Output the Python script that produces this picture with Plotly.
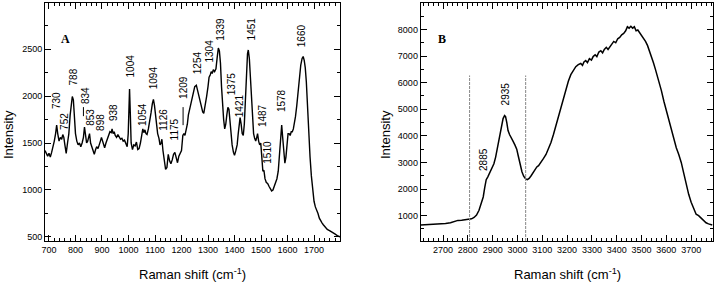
import plotly.graph_objects as go

# ---------------- Panel A data ----------------
a_shift = [685, 690, 695, 700, 705, 710, 715, 720, 725, 729, 733, 738, 743, 748, 752, 756, 760, 765, 770, 775,
           780, 784, 788, 792, 796, 800, 805, 810, 815, 820, 825, 830, 834, 838, 842, 846, 850, 853, 857, 862,
           867, 871, 876, 880, 885, 890, 894, 898, 902, 906, 910, 915, 920, 925, 930, 935, 938, 942, 946, 950,
           955, 960, 965, 970, 975, 980, 985, 990, 995, 999, 1002, 1004, 1007, 1010, 1015, 1020, 1025, 1030, 1035, 1040,
           1045, 1050, 1054, 1058, 1062, 1066, 1070, 1075, 1080, 1085, 1090, 1094, 1098, 1102, 1106, 1110, 1115, 1119, 1123, 1126,
           1130, 1135, 1140, 1145, 1150, 1155, 1160, 1165, 1170, 1175, 1180, 1185, 1190, 1195, 1200, 1205, 1209, 1213, 1218, 1222,
           1226, 1230, 1235, 1240, 1245, 1250, 1256, 1260, 1264, 1268, 1272, 1276, 1280, 1284, 1290, 1295, 1300, 1304, 1308, 1312,
           1316, 1320, 1325, 1330, 1335, 1339, 1343, 1347, 1351, 1355, 1359, 1363, 1367, 1371, 1375, 1379, 1383, 1387, 1391, 1396,
           1400, 1405, 1410, 1414, 1418, 1421, 1425, 1429, 1433, 1437, 1441, 1445, 1449, 1452, 1456, 1460, 1464, 1468, 1472, 1476,
           1480, 1484, 1487, 1491, 1495, 1499, 1503, 1507, 1511, 1515, 1520, 1525, 1530, 1535, 1540, 1545, 1550, 1555, 1560, 1565,
           1570, 1575, 1578, 1582, 1586, 1590, 1594, 1598, 1602, 1606, 1610, 1614, 1618, 1622, 1626, 1630, 1635, 1640, 1645, 1650,
           1655, 1659, 1663, 1667, 1671, 1675, 1680, 1685, 1690, 1695, 1700, 1705, 1710, 1715, 1720, 1725, 1730, 1735, 1740, 1750,
           1760, 1770, 1780, 1790, 1800]
a_intensity = [1420, 1380, 1360, 1390, 1350, 1400, 1450, 1520, 1600, 1690, 1600, 1520, 1560, 1540, 1590, 1560, 1480, 1390, 1500, 1600,
               1800, 1950, 1995, 1960, 1800, 1600, 1520, 1480, 1500, 1460, 1500, 1560, 1670, 1560, 1500, 1520, 1560, 1600, 1500, 1450,
               1420, 1380, 1430, 1460, 1440, 1500, 1520, 1560, 1520, 1480, 1450, 1500, 1540, 1600, 1620, 1610, 1650, 1600, 1620, 1580,
               1560, 1590, 1560, 1540, 1550, 1520, 1530, 1490, 1460, 1600, 1950, 2075, 1800, 1500, 1430, 1480, 1470, 1510, 1430, 1440,
               1500, 1580, 1650, 1610, 1640, 1600, 1590, 1650, 1720, 1820, 1920, 1965, 1900, 1780, 1650, 1600, 1550, 1480, 1500, 1540,
               1420, 1300, 1220, 1240, 1380, 1310, 1280, 1320, 1380, 1400, 1350, 1290, 1360, 1390, 1420, 1580, 1600, 1580, 1640, 1700,
               1800, 1850, 1900, 1960, 2050, 2100, 2115, 2070, 2000, 1950, 1920, 1880, 1830, 1815, 1900, 2000, 2100, 2200, 2220, 2260,
               2240, 2280, 2260, 2290, 2420, 2510, 2480, 2350, 2100, 1900, 1750, 1650, 1700, 1800, 1880, 1860, 1700, 1600, 1480, 1400,
               1370, 1420, 1480, 1600, 1700, 1770, 1700, 1600, 1580, 1700, 1950, 2250, 2450, 2490, 2400, 2200, 1950, 1750, 1600, 1550,
               1520, 1560, 1600, 1520, 1480, 1500, 1350, 1200, 1210, 1120, 1080, 1070, 1040, 1020, 990, 1000, 1040, 1060, 1120, 1200,
               1380, 1600, 1690, 1550, 1380, 1285, 1350, 1450, 1600, 1600, 1580, 1620, 1620, 1650, 1700, 1780, 1900, 2050, 2200, 2330,
               2400, 2420, 2380, 2300, 2150, 1900, 1600, 1350, 1150, 1000, 880, 820, 790, 750, 700, 670, 650, 630, 610, 580,
               565, 550, 530, 510, 500]

a_labels = ["730", "752", "788", "834", "853", "898", "938", "1004", "1054", "1094", "1126", "1175",
            "1209", "1254", "1304", "1339", "1375", "1421", "1451", "1487", "1510", "1578", "1660"]
a_label_x = [728, 759, 792, 838, 857, 895, 941, 1008, 1050, 1095, 1134, 1174,
             1207, 1261, 1306, 1347, 1387, 1422, 1463, 1508, 1523, 1580, 1656]
a_label_y = [1850, 1630, 2100, 1904, 1673, 1620, 1726, 2188, 1673, 2063, 1620, 1513,
             1957, 2223, 2347, 2578, 1992, 1762, 2578, 1655, 1265, 1815, 2507]
a_dash_x = [830, 1206]
a_dash_y0 = [1786, 1690]
a_dash_y1 = [1882, 1882]

# ---------------- Panel B data ----------------
b_shift = [2610, 2630, 2650, 2670, 2690, 2710, 2730, 2750, 2760, 2775, 2790, 2805, 2815, 2825, 2835, 2845, 2855, 2862, 2868, 2874,
           2880, 2886, 2892, 2898, 2905, 2912, 2920, 2928, 2935, 2942, 2948, 2952, 2957, 2962, 2968, 2975, 2982, 2990, 2997, 3003,
           3010, 3018, 3025, 3033, 3040, 3047, 3055, 3062, 3070, 3078, 3085, 3095, 3105, 3115, 3125, 3135, 3145, 3155, 3165, 3175,
           3185, 3195, 3205, 3215, 3225, 3235, 3245, 3255, 3262, 3268, 3275, 3282, 3290, 3298, 3305, 3313, 3320, 3328, 3336, 3343,
           3350, 3358, 3365, 3372, 3380, 3388, 3396, 3404, 3412, 3420, 3428, 3436, 3443, 3450, 3457, 3464, 3471, 3478, 3485, 3492,
           3500, 3508, 3516, 3524, 3532, 3540, 3548, 3556, 3564, 3572, 3580, 3590, 3600, 3610, 3620, 3630, 3640, 3650, 3660, 3670,
           3680, 3690, 3700, 3710, 3720, 3730, 3740, 3750, 3760, 3770, 3785]
b_intensity = [650, 655, 660, 670, 680, 700, 730, 800, 820, 830, 840, 860, 880, 930, 1020, 1200, 1450, 1700, 2050, 2350,
               2450, 2580, 2700, 2800, 2950, 3200, 3600, 4100, 4450, 4650, 4760, 4720, 4500, 4200, 4050, 3950, 3800, 3650, 3500, 3250,
               2950, 2650, 2480, 2380, 2350, 2400, 2500, 2600, 2750, 2830, 2880, 3000, 3150, 3300, 3500, 3750, 4050, 4400, 4750, 5100,
               5450, 5750, 6050, 6300, 6450, 6600, 6680, 6720, 6650, 6780, 6830, 6750, 6900, 6850, 6980, 7050, 6980, 7150, 7200, 7120,
               7250, 7330, 7250, 7330, 7450, 7550, 7500, 7650, 7700, 7800, 7850, 7950, 8100, 8050, 8120, 8050, 8100, 7950, 7980, 7880,
               7800, 7700, 7550, 7400, 7200, 7000, 6750, 6500, 6250, 6000, 5700, 5300, 4950, 4550, 4200, 3850, 3550, 3300, 3000, 2600,
               2150, 1800, 1500, 1250, 1050, 1000, 900, 800, 730, 690, 650]

b_labels = ["2885", "2935"]
b_label_x = [2865, 2952]
b_label_y = [2659, 5108]
b_vline_x = [2807, 3033]
b_vline_top = [6270, 6270]

BASEFONT = dict(family="Liberation Sans, Arial, sans-serif", size=9, color="black")
TITLEFONT = dict(family="Liberation Sans, Arial, sans-serif", size=13, color="black")
LABELFONT = dict(family="Liberation Sans, Arial, sans-serif", size=10, color="black")

W, H = 720, 285
ML, MR, MT, MB = 45, 7, 3, 44
PW = W - ML - MR
PH = H - MT - MB


def minor(dt):
    return dict(dtick=dt, ticks="inside", ticklen=3, tickwidth=1, tickcolor="black")


def axis(**kw):
    d = dict(showline=True, linecolor="black", mirror="allticks",
             ticks="inside", ticklen=6, tickwidth=1, tickcolor="black", showgrid=False)
    d.update(kw)
    return d


fig = go.Figure()
fig.add_trace(go.Scatter(x=a_shift, y=a_intensity, mode="lines",
                         line=dict(color="black", width=1.4), showlegend=False))
fig.add_trace(go.Scatter(x=b_shift, y=b_intensity, mode="lines",
                         line=dict(color="black", width=1.5), xaxis="x2", yaxis="y2", showlegend=False))

fig.update_layout(
    template="none",
    width=W, height=H,
    font=BASEFONT,
    margin=dict(l=ML, r=MR, t=MT, b=MB),
    xaxis=axis(domain=[0, (340 - ML) / PW], range=[685, 1798], dtick=100, minor=minor(20)),
    yaxis=axis(range=[457, 2990], dtick=500, minor=minor(250)),
    xaxis2=axis(domain=[(420.7 - ML) / PW, 1], range=[2610, 3788], dtick=100,
                minor=minor(20), anchor="y2"),
    yaxis2=axis(range=[45, 8995], dtick=1000, minor=minor(500), anchor="x2"),
)

ann = []
for t, x, y in zip(a_labels, a_label_x, a_label_y):
    ann.append(dict(text=t, x=x, y=y, xref="x", yref="y", textangle=-90, showarrow=False,
                    xanchor="center", yanchor="bottom", font=LABELFONT, borderpad=0))
for t, x, y in zip(b_labels, b_label_x, b_label_y):
    ann.append(dict(text=t, x=x, y=y, xref="x2", yref="y2", textangle=-90, showarrow=False,
                    xanchor="center", yanchor="bottom", font=LABELFONT, borderpad=0))

ann.append(dict(text="<b>A</b>", x=762, y=2603, xref="x", yref="y", showarrow=False,
                font=dict(family="Liberation Serif, Times New Roman, serif", size=12, color="black")))
ann.append(dict(text="<b>B</b>", x=2695, y=7649, xref="x2", yref="y2", showarrow=False,
                font=dict(family="Liberation Serif, Times New Roman, serif", size=12, color="black")))

for xc in [192.5, 567.5]:
    ann.append(dict(text="Raman shift (cm<sup>-1</sup>)", x=(xc - ML) / PW, y=(H - MB - 274) / PH,
                    xref="paper", yref="paper", showarrow=False, xanchor="center", yanchor="middle",
                    font=TITLEFONT))
for xc in [8, 385]:
    ann.append(dict(text="Intensity", x=(xc - ML) / PW, y=(H - MB - 135) / PH, xref="paper", yref="paper",
                    textangle=-90, showarrow=False, xanchor="center", yanchor="middle", font=TITLEFONT))
fig.update_layout(annotations=ann)

shapes = []
for x, y0, y1 in zip(a_dash_x, a_dash_y0, a_dash_y1):
    shapes.append(dict(type="line", xref="x", yref="y", x0=x, x1=x, y0=y0, y1=y1,
                       line=dict(color="black", width=1)))
for x, top in zip(b_vline_x, b_vline_top):
    shapes.append(dict(type="line", xref="x2", yref="y2", x0=x, x1=x, y0=45, y1=top,
                       line=dict(color="#888888", width=1, dash="3px,1px")))
fig.update_layout(shapes=shapes)

fig.write_html("out.html", config={"displayModeBar": False},
               post_script="document.body.style.margin='0';")
